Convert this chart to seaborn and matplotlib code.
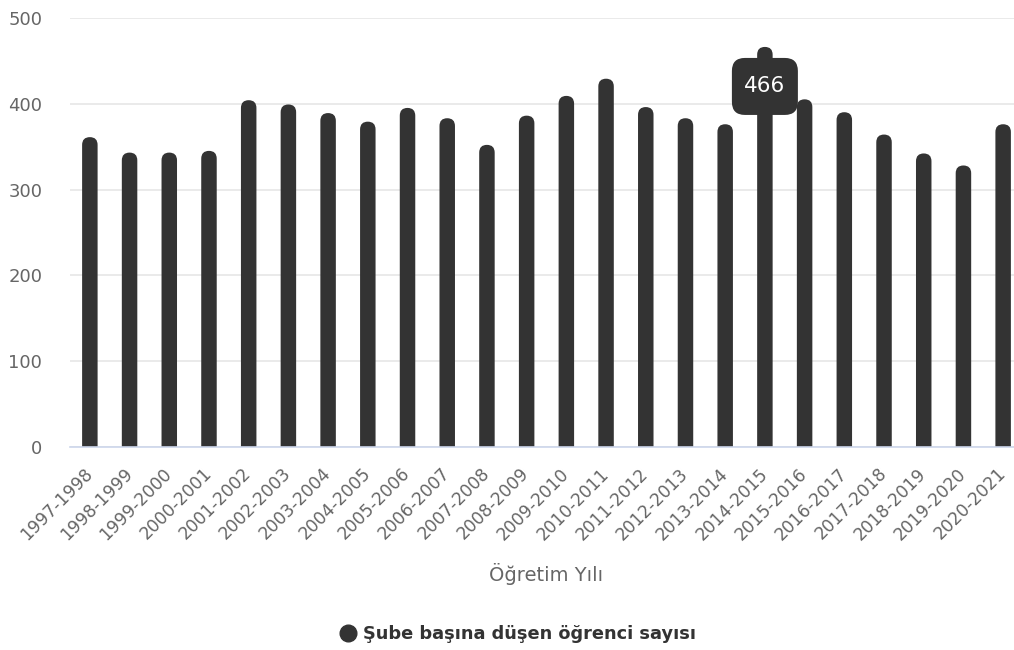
import matplotlib
matplotlib.use("Agg")
import matplotlib.pyplot as plt
import seaborn as sns
import pandas as pd
from matplotlib.patches import FancyBboxPatch
from matplotlib.lines import Line2D

years = ["1997-1998", "1998-1999", "1999-2000", "2000-2001", "2001-2002",
         "2002-2003", "2003-2004", "2004-2005", "2005-2006", "2006-2007",
         "2007-2008", "2008-2009", "2009-2010", "2010-2011", "2011-2012",
         "2012-2013", "2013-2014", "2014-2015", "2015-2016", "2016-2017",
         "2017-2018", "2018-2019", "2019-2020", "2020-2021"]
students_per_class = [361, 343, 343, 345, 404, 399, 389, 379, 395, 383,
                      352, 386, 409, 429, 396, 383, 376, 466, 405, 390,
                      364, 342, 328, 376]
yticks = [0, 100, 200, 300, 400, 500]
highlight_year = "2014-2015"
series_name = "Şube başına düşen öğrenci sayısı"
x_title = "Öğretim Yılı"

sns.set_theme(style="white")
plt.rcParams["font.family"] = ["DejaVu Sans"]

BAR = "#333333"
TXT = "#666666"

df = pd.DataFrame({"year": years, "value": students_per_class})

W, H = 1014, 650
fig = plt.figure(figsize=(W / 100, H / 100), dpi=100)
left, right = 70, 1023
bottom, top = 447.3, 17.7
ax = fig.add_axes([left / W, (H - bottom) / H, (right - left) / W, (bottom - top) / H])

sns.barplot(data=df, x="year", y="value", color=BAR, width=0.39,
            saturation=1, ax=ax)
ax.set_ylim(0, 500)
ax.set_xlim(-0.5, len(years) - 0.5)

# pixel size of one unit on each axis, used for round corners
px_per_x = (right - left) / len(years)
px_per_y = (bottom - top) / 500
aspect = px_per_x / px_per_y

# round the top of every bar
for p in list(ax.patches):
    x, w, h = p.get_x(), p.get_width(), p.get_height()
    rp = FancyBboxPatch((x, -20), w, h + 20,
                        boxstyle=f"round,pad=0,rounding_size={w / 2}",
                        mutation_aspect=aspect, facecolor=BAR,
                        edgecolor="none", zorder=2)
    p.remove()
    ax.add_patch(rp)

ax.set_yticks(yticks)
ax.yaxis.grid(True, color="#e6e6e6", linewidth=1.2)
ax.set_axisbelow(True)
for s in ["top", "right", "left"]:
    ax.spines[s].set_visible(False)
ax.spines["bottom"].set_color("#ccd6eb")
ax.spines["bottom"].set_linewidth(1.2)
ax.spines["bottom"].set_zorder(3)

ax.tick_params(axis="y", length=0, pad=20, labelsize=13, labelcolor=TXT)
ax.tick_params(axis="x", length=0, pad=17, labelsize=12.3, labelcolor=TXT)
for lab in ax.get_xticklabels():
    lab.set_rotation(45)
    lab.set_ha("right")
    lab.set_va("center")
    lab.set_rotation_mode("anchor")

ax.set_xlabel(x_title, fontsize=14, color=TXT, labelpad=14)
ax.set_ylabel("")

# hover label on the highlighted year
i = years.index(highlight_year)
cy = 420
bw, bh, br = 66 / px_per_x, 57 / px_per_y, 13 / px_per_x
tip = FancyBboxPatch((i - bw / 2, cy - bh / 2), bw, bh,
                     boxstyle=f"round,pad=0,rounding_size={br}",
                     mutation_aspect=aspect, facecolor=BAR,
                     edgecolor="none", zorder=4)
ax.add_patch(tip)
ax.text(i, cy + 1, f"{students_per_class[i]}", color="white", fontsize=15.5,
        ha="center", va="center", zorder=5)

handle = Line2D([], [], marker="o", linestyle="none", markersize=12,
                markerfacecolor=BAR, markeredgecolor=BAR)
fig.legend([handle], [series_name], loc="center",
           bbox_to_anchor=(518 / W, 1 - 634 / H), frameon=False,
           prop=dict(size=12.8, weight="bold"), labelcolor=BAR,
           handletextpad=0.45, handlelength=0.8)

fig.savefig("out.png", dpi=100)
